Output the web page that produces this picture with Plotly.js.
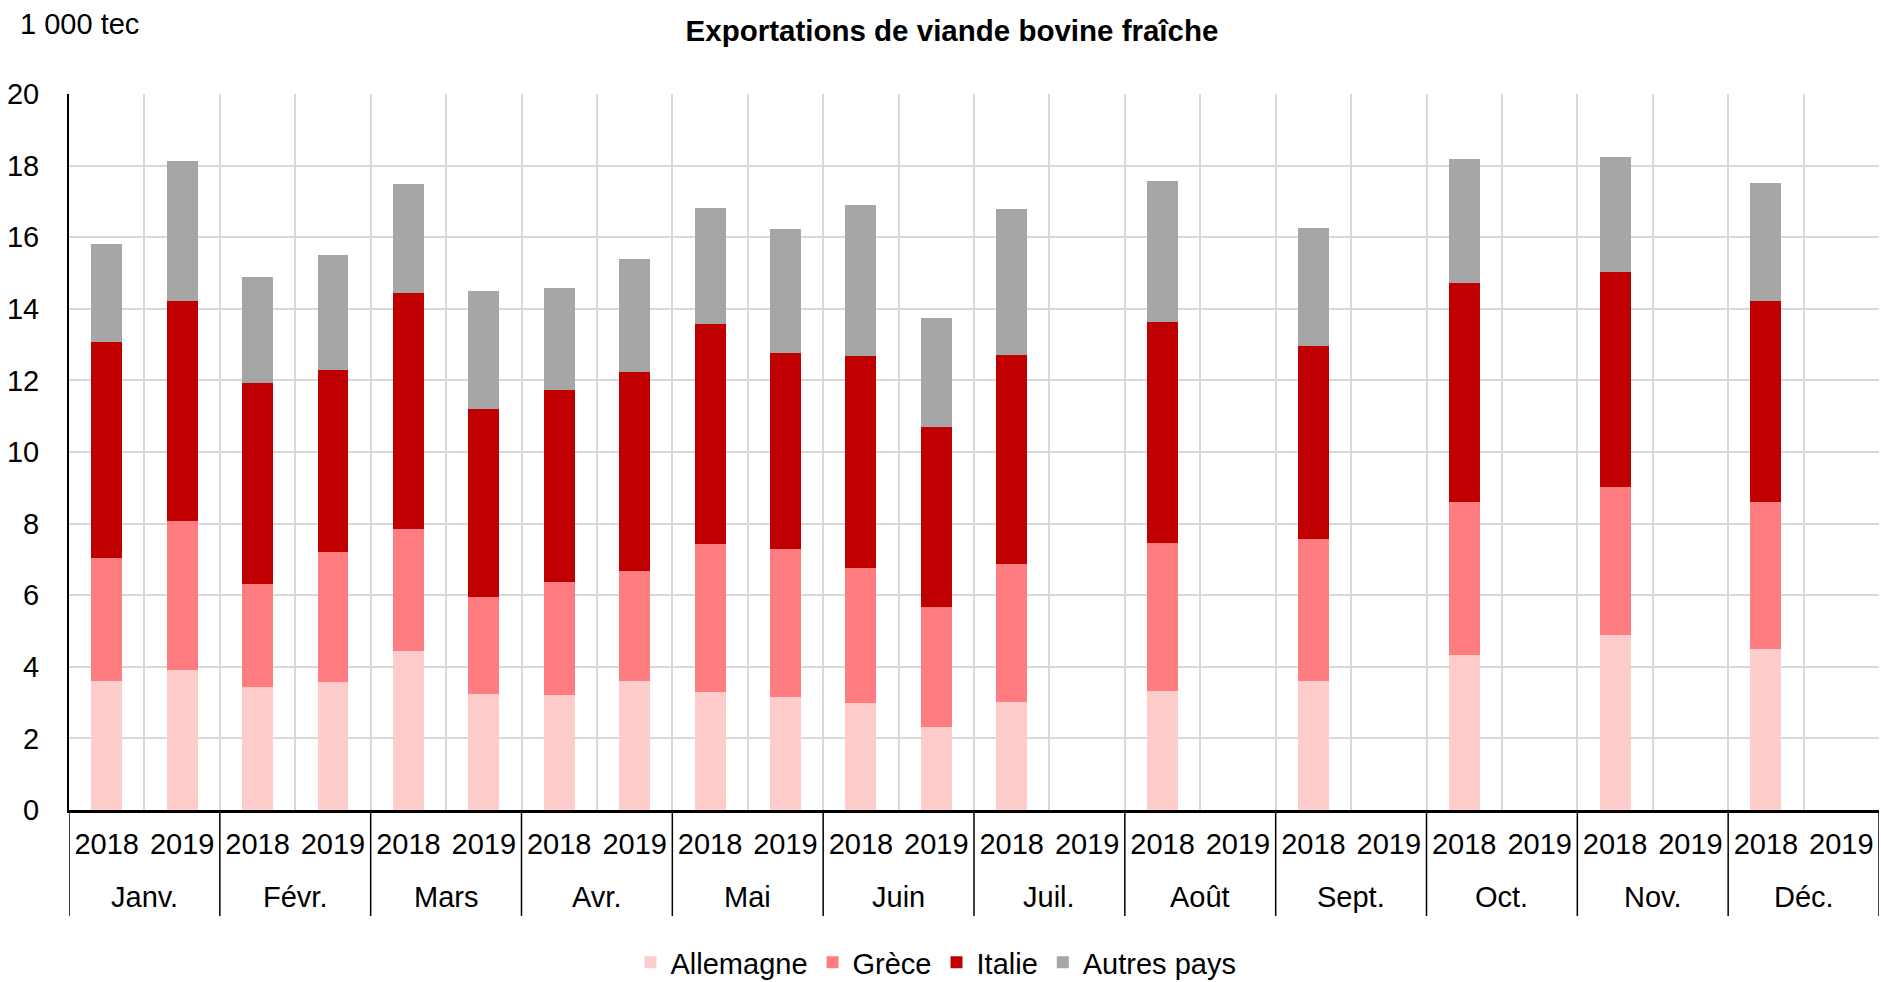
<!DOCTYPE html>
<html>
<head>
<meta charset="utf-8">
<script src="https://cdn.plot.ly/plotly-3.0.1.min.js"></script>
<style>
  html, body { margin: 0; padding: 0; background: #fff; }
  #gd { width: 1881px; height: 982px; }
</style>
</head>
<body>
<div id="gd"></div>
<script>
var months = ["Janv.", "Févr.", "Mars", "Avr.", "Mai", "Juin", "Juil.", "Août", "Sept.", "Oct.", "Nov.", "Déc."];
var years = ["2018", "2019"];

// 1 000 tec, order: Janv 2018, Janv 2019, Févr 2018, ...
var allemagne = [3.59, 3.91, 3.43, 3.57, 4.43, 3.23, 3.20, 3.59, 3.29, 3.16, 3.00, 2.32,
                 3.01, null, 3.33, null, 3.59, null, 4.32, null, 4.90, null, 4.50, null];
var grece     = [3.44, 4.15, 2.89, 3.63, 3.41, 2.72, 3.18, 3.10, 4.15, 4.12, 3.75, 3.34,
                 3.85, null, 4.12, null, 3.99, null, 4.27, null, 4.12, null, 4.09, null];
var italie    = [6.05, 6.16, 5.62, 5.08, 6.59, 5.24, 5.36, 5.54, 6.14, 5.49, 5.93, 5.03,
                 5.86, null, 6.19, null, 5.37, null, 6.12, null, 6.02, null, 5.63, null];
var autres    = [2.72, 3.92, 2.95, 3.23, 3.07, 3.31, 2.85, 3.15, 3.24, 3.47, 4.21, 3.05,
                 4.06, null, 3.92, null, 3.31, null, 3.47, null, 3.21, null, 3.29, null];

// one category per (month, year), labelled with the year only
var cats = [], catYear = [];
months.forEach(function (m) {
  years.forEach(function (y) {
    cats.push(m + " " + y);
    catYear.push(y);
  });
});

var FONT = "Liberation Sans, Arial, sans-serif";

function serie(name, values, color) {
  return {
    type: "bar",
    name: name,
    x: cats,
    y: values,
    marker: { color: color, line: { width: 0 } },
    hoverinfo: "y+name"
  };
}

var traces = [
  serie("Allemagne", allemagne, "#ffcccc"),
  serie("Grèce", grece, "#ff7c80"),
  serie("Italie", italie, "#c00000"),
  serie("Autres pays", autres, "#a6a6a6")
];

// month labels under each pair of years, and the black dividers between months
var plotH = 716;
var annotations = months.map(function (m, i) {
  return {
    text: m,
    xref: "x",
    yref: "paper",
    x: i * years.length + 0.5,
    y: -(897 - 810) / plotH,
    yanchor: "middle",
    showarrow: false,
    font: { family: FONT, size: 29, color: "#000000" }
  };
});
annotations.push({
  text: "1 000 tec",
  xref: "paper",
  yref: "paper",
  x: -(69 - 18) / 1810,
  xanchor: "left",
  y: 1 + (94 - 24) / plotH,
  yanchor: "middle",
  showarrow: false,
  font: { family: FONT, size: 29, color: "#000000" }
});

var shapes = [];
for (var i = 0; i <= months.length; i++) {
  shapes.push({
    type: "line",
    xref: "x",
    yref: "paper",
    x0: i * years.length - 0.5,
    x1: i * years.length - 0.5,
    y0: 0,
    y1: -(916 - 810) / plotH,
    line: { color: "#000000", width: 1.5 }
  });
}

var layout = {
  width: 1881,
  height: 982,
  barmode: "stack",
  bargap: 0.59,
  paper_bgcolor: "#ffffff",
  plot_bgcolor: "#ffffff",
  font: { family: FONT, size: 29, color: "#000000" },
  margin: { l: 69, r: 2, t: 94, b: 172, autoexpand: false },
  title: {
    text: "<b>Exportations de viande bovine fraîche</b>",
    font: { family: FONT, size: 29.5, color: "#000000" },
    x: 952 / 1881,
    xanchor: "center",
    y: 1 - 31 / 982,
    yanchor: "middle"
  },
  xaxis: {
    type: "category",
    tickmode: "array",
    tickvals: cats,
    ticktext: catYear,
    tickson: "boundaries",
    range: [-0.5, cats.length - 0.5],
    showgrid: true,
    gridcolor: "#d9d9d9",
    gridwidth: 2,
    showline: true,
    linecolor: "#000000",
    linewidth: 3,
    ticks: "",
    ticklabelstandoff: 6,
    tickfont: { family: FONT, size: 29, color: "#000000" },
    zeroline: false
  },
  yaxis: {
    range: [0, 20],
    dtick: 2,
    tick0: 0,
    showgrid: true,
    gridcolor: "#d9d9d9",
    gridwidth: 2,
    showline: true,
    linecolor: "#000000",
    linewidth: 2,
    ticks: "",
    ticklabelstandoff: 22,
    zeroline: false,
    tickfont: { family: FONT, size: 29, color: "#000000" }
  },
  showlegend: true,
  legend: {
    orientation: "h",
    x: (936 - 69) / 1810,
    xanchor: "center",
    y: -(937 - 810) / plotH,
    yanchor: "top",
    font: { family: FONT, size: 29, color: "#000000" },
    traceorder: "normal",
    itemwidth: 30
  },
  shapes: shapes,
  annotations: annotations
};

var config = { displayModeBar: false, staticPlot: true };

Plotly.newPlot("gd", traces, layout, config);
</script>
</body>
</html>
